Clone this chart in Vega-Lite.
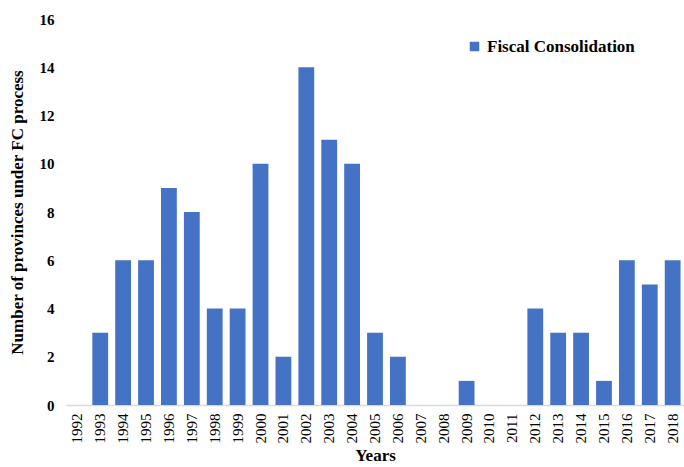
{
  "$schema": "https://vega.github.io/schema/vega-lite/v6.json",
  "autosize": {"type": "none"},
  "padding": {"left": 66, "top": 19, "right": 0, "bottom": 62},
  "width": 618,
  "height": 386,
  "background": "white",
  "config": {
    "view": {"stroke": null},
    "font": "Liberation Serif"
  },
  "data": {
    "values": [
      {"year": "1992", "count": 0, "series": "Fiscal Consolidation"},
      {"year": "1993", "count": 3, "series": "Fiscal Consolidation"},
      {"year": "1994", "count": 6, "series": "Fiscal Consolidation"},
      {"year": "1995", "count": 6, "series": "Fiscal Consolidation"},
      {"year": "1996", "count": 9, "series": "Fiscal Consolidation"},
      {"year": "1997", "count": 8, "series": "Fiscal Consolidation"},
      {"year": "1998", "count": 4, "series": "Fiscal Consolidation"},
      {"year": "1999", "count": 4, "series": "Fiscal Consolidation"},
      {"year": "2000", "count": 10, "series": "Fiscal Consolidation"},
      {"year": "2001", "count": 2, "series": "Fiscal Consolidation"},
      {"year": "2002", "count": 14, "series": "Fiscal Consolidation"},
      {"year": "2003", "count": 11, "series": "Fiscal Consolidation"},
      {"year": "2004", "count": 10, "series": "Fiscal Consolidation"},
      {"year": "2005", "count": 3, "series": "Fiscal Consolidation"},
      {"year": "2006", "count": 2, "series": "Fiscal Consolidation"},
      {"year": "2007", "count": 0, "series": "Fiscal Consolidation"},
      {"year": "2008", "count": 0, "series": "Fiscal Consolidation"},
      {"year": "2009", "count": 1, "series": "Fiscal Consolidation"},
      {"year": "2010", "count": 0, "series": "Fiscal Consolidation"},
      {"year": "2011", "count": 0, "series": "Fiscal Consolidation"},
      {"year": "2012", "count": 4, "series": "Fiscal Consolidation"},
      {"year": "2013", "count": 3, "series": "Fiscal Consolidation"},
      {"year": "2014", "count": 3, "series": "Fiscal Consolidation"},
      {"year": "2015", "count": 1, "series": "Fiscal Consolidation"},
      {"year": "2016", "count": 6, "series": "Fiscal Consolidation"},
      {"year": "2017", "count": 5, "series": "Fiscal Consolidation"},
      {"year": "2018", "count": 6, "series": "Fiscal Consolidation"}
    ]
  },
  "mark": {"type": "bar"},
  "encoding": {
    "x": {
      "field": "year",
      "type": "ordinal",
      "scale": {"paddingInner": 0.31, "paddingOuter": 0.15},
      "axis": {
        "title": "Years",
        "titleFontSize": 17,
        "titleFontWeight": "bold",
        "titleColor": "#000000",
        "titlePadding": 4,
        "labelAngle": 270,
        "labelFontSize": 15,
        "labelColor": "#000000",
        "labelPadding": 8,
        "ticks": false,
        "domainColor": "#d9d9d9",
        "domainWidth": 1.5
      }
    },
    "y": {
      "field": "count",
      "type": "quantitative",
      "scale": {"domain": [0, 16]},
      "axis": {
        "title": "Number of provinces under FC process",
        "titleFontSize": 17,
        "titleFontWeight": "bold",
        "titleColor": "#000000",
        "titlePadding": 13,
        "values": [0, 2, 4, 6, 8, 10, 12, 14, 16],
        "labelFontSize": 15,
        "labelFontWeight": "bold",
        "labelColor": "#000000",
        "labelPadding": 12,
        "ticks": false,
        "domain": false,
        "grid": false
      }
    },
    "color": {
      "field": "series",
      "type": "nominal",
      "scale": {"range": ["#4472c4"]},
      "legend": {
        "title": null,
        "orient": "none",
        "legendX": 400,
        "legendY": 19,
        "symbolType": "square",
        "symbolSize": 90,
        "symbolStrokeWidth": 0,
        "labelFontSize": 17,
        "labelFontWeight": "bold",
        "labelColor": "#000000",
        "labelOffset": 4
      }
    }
  }
}
